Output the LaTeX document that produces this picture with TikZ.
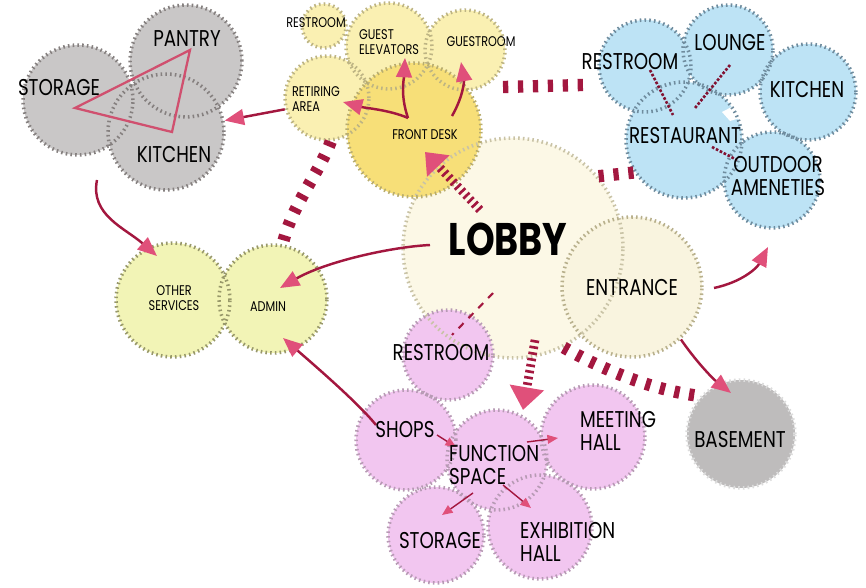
\documentclass[tikz,border=0pt]{standalone}
\usepackage{fontspec}
\setmainfont[FakeStretch=0.8]{Poppins}
\usetikzlibrary{arrows.meta}

\definecolor{fgrey}{HTML}{C9C7C7}
\definecolor{lgrey}{HTML}{85807F}
\definecolor{fyell}{HTML}{FAF0B2}
\definecolor{lyell}{HTML}{BDB483}
\definecolor{fdesky}{HTML}{F7DF78}
\definecolor{ldesky}{HTML}{B8AC6E}
\definecolor{flobby}{HTML}{FCF8E6}
\definecolor{llobby}{HTML}{C9C3A6}
\definecolor{fentr}{HTML}{F9F4DF}
\definecolor{lentr}{HTML}{B8B08C}
\definecolor{fgreen}{HTML}{F2F4B6}
\definecolor{lgreen}{HTML}{98986A}
\definecolor{fblue}{HTML}{BDE3F5}
\definecolor{lblue}{HTML}{6F8C9E}
\definecolor{fpink}{HTML}{F2C6F0}
\definecolor{lpink}{HTML}{B79AB4}
\definecolor{fbase}{HTML}{BEBCBC}
\definecolor{lbase}{HTML}{DCDCDC}
\definecolor{crimson}{HTML}{A3173F}
\definecolor{tippink}{HTML}{E0507A}
\definecolor{trilink}{HTML}{D0506F}

% name/x/y/radius/colour group
\newcommand{\bubblelist}{lobby/513/248/110/lobby, entr/632/287/70/entr,
  storage/78/100/55/grey, pantry/186/61/56/grey, kitchen/166/132/58/grey,
  rest1/324/26/22/yell, elev/389/46/43/yell, groom/465/50/40/yell,
  retire/327/98/42/yell, fdesk/414/130/67/desky,
  other/173/300/57/green, admin/273/299/54/green,
  brest/645/66/46/blue, lounge/728/50/45/blue, bkit/808/92/48/blue,
  restaur/684/140/58/blue, outdoor/772/180/48/blue,
  prest/448/355/45/pink, shops/406/440/50/pink, func/497/460/50/pink,
  meet/593/437/52/pink, pstor/436/535/48/pink, exhib/540/527/52/pink,
  basement/741/434/54/base}

\begin{document}
\begin{tikzpicture}[x=0.02cm,y=-0.02cm,
  bub/.style={circle,inner sep=0pt,minimum size=#1*0.04cm,line width=2pt,dash pattern=on 0.9pt off 1.8pt},
  big/.style={font=\fontsize{13}{13.5}\selectfont,align=center,inner sep=1pt},
  small/.style={font=\fontsize{8}{9}\selectfont,align=center,inner sep=1pt},
  arr/.style={crimson,line width=1.4pt,-{Triangle[length=11pt,width=9pt,color=tippink]}},
  minarr/.style={crimson,line width=0.8pt,-{Triangle[length=6pt,width=5pt,color=tippink]}},
  ladder/.style={crimson,line width=7pt,dash pattern=on 3pt off 5.5pt},
  stripe/.style={crimson,line width=5pt,dash pattern=on 1.5pt off 2pt},
  tie/.style={crimson!80!black,line width=1.5pt,dash pattern=on 1.5pt off 1pt}]
\useasboundingbox (0,0) rectangle (866,588);

% fills first, dotted rims on top
\foreach \n/\cx/\cy/\r/\c in \bubblelist
  \fill[f\c] (\cx,\cy) circle[radius=\r];
\fill[white] (722,112) -- (745,100) -- (757,113) -- (730,121) -- cycle;
\foreach \n/\cx/\cy/\r/\c in \bubblelist
  \node[bub=\r,draw=l\c] (\n) at (\cx,\cy) {};

% kitchen block
\coordinate (tS) at (75,108);
\coordinate (tP) at (190,50);
\coordinate (tK) at (172,132);
\draw[trilink,line width=1.3pt] (tS) -- (tP) -- (tK) -- cycle;

% restaurant block
\coordinate (bt1) at (650,70);  \coordinate (bt2) at (673,115);
\coordinate (bt3) at (730,65);  \coordinate (bt4) at (695,108);
\coordinate (bt5) at (712,147); \coordinate (bt6) at (737,160);
\draw[tie] (bt1) -- (bt2);
\draw[tie] (bt3) -- (bt4);
\draw[tie] (bt5) -- (bt6);

% heavy links
\coordinate (gR) at (503,87);
\coordinate (bL) at (583,85);
\draw[ladder] (gR) -- (bL);
\draw[ladder] (lobby.40) -- (restaur.213);
\draw[ladder] (retire.275) .. controls (318,175) and (292,205) .. (admin.80);
\draw[ladder] (lobby.297) .. controls (600,368) and (650,390) .. (basement.137);

\coordinate (lD) at (480,210);
\coordinate (dT) at (425,152);
\draw[stripe,-{Triangle[length=11pt,width=17pt,color=tippink]}] (lD) -- (dT);
\coordinate (lF) at (535,340);
\coordinate (fT) at (523,410);
\draw[stripe,-{Triangle[length=13pt,width=19pt,color=tippink]}] (lF) -- (fT);

\coordinate (lR1) at (493,293);
\coordinate (lR2) at (452,335);
\draw[crimson,line width=1.2pt,dash pattern=on 4pt off 4pt] (lR1) -- (lR2);

% arrows
\draw[arr] (retire.195) -- (kitchen.11);
\coordinate (kS) at (97,180);
\coordinate (oE) at (157,256);
\draw[arr] (kS) .. controls (90,215) and (125,228) .. (oE);

\coordinate (dS) at (408,118);
\coordinate (dG) at (452,116);
\coordinate (eE) at (405,58);
\coordinate (gE) at (461,62);
\coordinate (rE) at (343,102);
\draw[arr] (dS) .. controls (400,95) and (404,78) .. (eE);
\draw[arr] (dG) .. controls (464,95) and (464,80) .. (gE);
\draw[arr] (dS) .. controls (390,110) and (365,108) .. (rE);

\coordinate (lA) at (430,245);
\coordinate (aE) at (280,288);
\draw[arr] (lA) .. controls (390,247) and (325,262) .. (aE);

\coordinate (eR) at (714,288);
\coordinate (oA) at (768,247);
\coordinate (bE) at (731,393);
\draw[arr] (eR) .. controls (742,282) and (757,268) .. (oA);
\draw[arr] (entr.313) .. controls (695,360) and (712,378) .. (bE);

\coordinate (sS) at (376,425);
\coordinate (aB) at (283,338);
\draw[arr] (sS) .. controls (360,405) and (320,370) .. (aB);

\coordinate (fS) at (456,447);
\coordinate (fM1) at (527,442); \coordinate (fM2) at (558,438);
\coordinate (fP1) at (473,493); \coordinate (fP2) at (442,515);
\coordinate (fX1) at (503,485); \coordinate (fX2) at (531,508);
\draw[minarr] (437,435) -- (fS);
\draw[minarr] (fM1) -- (fM2);
\draw[minarr] (fP1) -- (fP2);
\draw[minarr] (fX1) -- (fX2);

% labels
\node[big] (storageT) at (59,88) {STORAGE};
\node[big] (pantryT) at (187,39) {PANTRY};
\node[big] (kitchenT) at (174,155) {KITCHEN};
\node[small] (rest1T) at (316,23) {RESTROOM};
\node[small,align=left,anchor=west] (elevT) at (357,42) {GUEST\\ELEVATORS};
\node[small] (groomT) at (481,42) {GUESTROOM};
\node[small,align=left,anchor=west] (retireT) at (290,99) {RETIRING\\AREA};
\node[small] (deskT) at (425,135) {FRONT DESK};
\node[font=\bfseries\fontsize{26}{26}\selectfont] (lobbyT) at (508,239) {LOBBY};
\node[big] (entrT) at (632,288) {ENTRANCE};
\node[small] (otherT) at (174,298) {OTHER\\SERVICES};
\node[small] (adminT) at (268,307) {ADMIN};
\node[big] (brestT) at (630,62) {RESTROOM};
\node[big] (loungeT) at (730,43) {LOUNGE};
\node[big] (bkitT) at (807,90) {KITCHEN};
\node[big] (restaurT) at (685,136) {RESTAURANT};
\node[big] (outdoorT) at (778,176) {OUTDOOR\\AMENETIES};
\node[big] (prestT) at (441,353) {RESTROOM};
\node[big] (shopsT) at (405,430) {SHOPS};
\node[big,align=left,anchor=west] (funcT) at (447,465) {FUNCTION\\SPACE};
\node[big,align=left,anchor=west] (meetT) at (578,431) {MEETING\\HALL};
\node[big] (pstorT) at (440,541) {STORAGE};
\node[big,align=left,anchor=west] (exhibT) at (518,542) {EXHIBITION\\HALL};
\node[big] (baseT) at (740,440) {BASEMENT};
\end{tikzpicture}
\end{document}
